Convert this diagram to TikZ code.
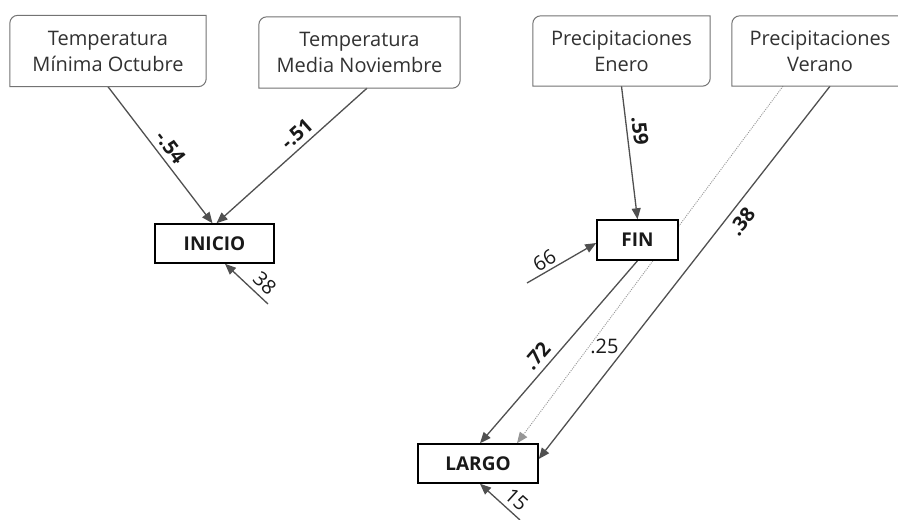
\documentclass[tikz,border=0pt]{standalone}
\usepackage{fontspec}
\setmainfont{Open Sans}
\usetikzlibrary{arrows.meta,calc}
\pgfdeclarelayer{bg}
\pgfdeclarelayer{edges}
\pgfsetlayers{bg,edges,main}
\definecolor{boxgray}{RGB}{115,115,115}
\definecolor{linegray}{RGB}{80,80,80}
\definecolor{dotgray}{RGB}{150,150,150}
\definecolor{txtgray}{RGB}{50,50,50}
\definecolor{txtdark}{RGB}{25,25,25}
% outline of a source box: top-left and bottom-right corners rounded
\newcommand\srcoutline[1]{%
  \draw[srcline] (#1.south west) -- ([yshift=-8pt]#1.north west)
    arc[start angle=180,end angle=90,radius=8pt] -- (#1.north east)
    -- ([yshift=8pt]#1.south east)
    arc[start angle=0,end angle=-90,radius=8pt] -- cycle;}
\begin{document}
\begin{tikzpicture}[x=1pt,y=1pt,
  srcbox/.style={minimum height=71pt, inner sep=0pt, align=center,
    text=txtgray, font=\fontsize{20}{26}\selectfont},
  varbox/.style={draw=black, line width=1.5pt, fill=white, minimum height=39pt,
    inner sep=0pt, font=\bfseries\fontsize{19}{22}\selectfont, text=txtdark},
  srcline/.style={draw=boxgray, line width=1pt},
  conn/.style={draw=linegray, line width=1.3pt, -{Triangle[length=11pt,width=9pt]}},
  dotconn/.style={conn, draw=dotgray, line width=0.9pt, dash pattern=on 1pt off 1.2pt},
  coef/.style={font=\bfseries\fontsize{20}{24}\selectfont, inner sep=3pt, text=txtdark},
  resid/.style={font=\fontsize{20}{24}\selectfont, inner sep=3pt, text=txtdark}
]
\begin{pgfonlayer}{bg}
  \fill[white] (0,0) rectangle (898,-520);
\end{pgfonlayer}
\useasboundingbox (0,0) rectangle (898,-520);

% source variables
\node[srcbox, minimum width=196pt] (t1) at (108,-51) {Temperatura\\Mínima Octubre};
\node[srcbox, minimum width=201pt] (t2) at (359.5,-52.5) {Temperatura\\Media Noviembre};
\node[srcbox, minimum width=177pt, minimum height=70pt] (p1) at (621.5,-51) {Precipitaciones\\Enero};
\node[srcbox, minimum width=176pt, minimum height=70pt] (p2) at (820,-51) {Precipitaciones\\Verano};
\srcoutline{t1}
\srcoutline{t2}
\srcoutline{p1}
\srcoutline{p2}

% phenology variables
\node[varbox, minimum width=119pt] (inicio) at (214.5,-243.5) {INICIO};
\node[varbox, minimum width=81pt, minimum height=40pt] (fin) at (637.5,-240) {FIN};
\node[varbox, minimum width=120pt] (largo) at (478,-463.5) {LARGO};

% free ends of the residual arrows
\coordinate (r1) at (268,-304);
\coordinate (r2) at (527,-283);
\coordinate (r3) at (520,-520);

\begin{pgfonlayer}{edges}
  \draw[conn] (t1.south) -- ([xshift=-2pt]inicio.north)
    node[coef, sloped, above=2pt, pos=0.5] {-.54};
  \draw[conn] ([xshift=7.5pt]t2.south) -- ([xshift=2pt]inicio.north)
    node[coef, sloped, above=2pt, pos=0.41] {-.51};
  \draw[conn] (r1) -- ([xshift=10.5pt]inicio.south)
    node[resid, sloped, above=2pt, pos=0.28] {38};

  \draw[conn] (p1.south) -- (fin.north)
    node[coef, sloped, above=2pt, pos=0.35] {.59};
  \draw[conn] (r2) -- ([yshift=-3pt]fin.west)
    node[resid, sloped, above, pos=0.33] {66};

  \draw[conn] (fin.south) -- ([xshift=2pt]largo.north)
    node[coef, sloped, above=3pt, pos=0.57] {.72};
  \draw[dotconn] ([xshift=-37pt]p2.south) -- ([xshift=39pt]largo.north)
    node[resid, anchor=west, inner sep=1pt, pos=0.73] {.25};
  \draw[conn] ([xshift=10pt]p2.south) -- ([yshift=4.5pt]largo.east)
    node[coef, sloped, below=3pt, pos=0.34] {.38};
  \draw[conn] (r3) -- ([xshift=2pt]largo.south)
    node[resid, sloped, above=2pt, pos=0.3] {15};
\end{pgfonlayer}
\end{tikzpicture}
\end{document}
